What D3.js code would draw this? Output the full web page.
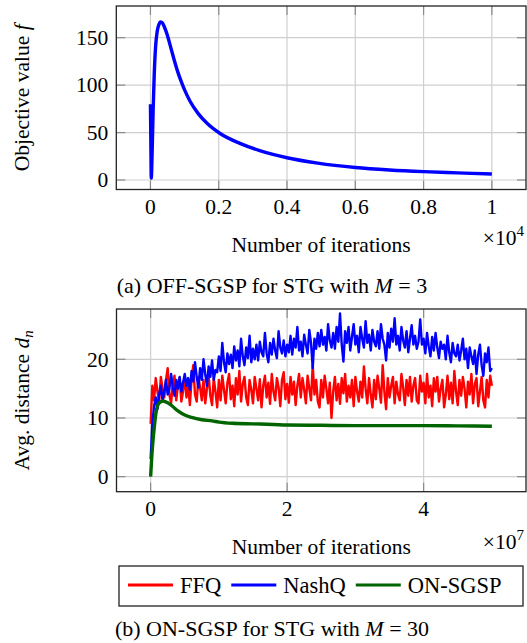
<!DOCTYPE html>
<html>
<head>
<meta charset="utf-8">
<script src="https://cdn.jsdelivr.net/npm/d3@7"></script>
<style>
  html, body { margin: 0; padding: 0; background: #fff; }
  svg text { font-family: "Liberation Serif", "Tinos", "Nimbus Roman", "DejaVu Serif", serif; fill: #000; }
</style>
</head>
<body>
<svg id="fig" width="527" height="643"></svg>
<script>
// ---- (a) OFF-SGSP, iterations in units of 1e4 ----
const offIter = [0, 0.0012, 0.0025, 0.005, 0.008, 0.011, 0.015, 0.02, 0.025, 0.03, 0.035, 0.04,
  0.05, 0.06, 0.07, 0.08, 0.09, 0.1, 0.116, 0.14, 0.165, 0.204, 0.262, 0.32, 0.4, 0.49, 0.6, 0.7, 0.8, 0.9, 1.0];
const offValue = [80, 40, 2, 30, 75, 110, 140, 157, 164, 166.5, 165.5, 162,
  152, 139, 126, 114, 104, 95, 83, 70, 60, 49, 38.6, 31, 23.5, 17.8, 13.2, 10.6, 8.8, 7.5, 6.3];
const offTicksX = [0, 0.2, 0.4, 0.6, 0.8, 1];
const offTicksY = [0, 50, 100, 150];

// ---- (b) ON-SGSP, iterations in units of 1e7 ----
const onStep = 0.025; // spacing of the FFQ / NashQ samples
const ffqValues = [
  9, 15.5, 13, 16.8, 14.5, 12.8, 17, 15, 13.5, 16.5, 18.5, 14, 12.5, 16, 17.2, 13, 15.5, 16.8, 12.8, 14.5,
  17, 13.5, 15.8, 12.2, 16.5, 19, 14, 12.8, 17, 15.2, 13, 16.5, 12.5, 15, 17.3, 13.8, 12.2, 16.8, 14.5, 11.8,
  16.5, 13, 17.2, 14.8, 12.5, 16, 17.5, 13.2, 15.5, 12, 16.8, 14, 18, 12.8, 15.8, 17, 13.5, 12.2, 16.5, 14.8,
  12.5, 17, 15, 13, 16.6, 11.8, 15.5, 17.2, 13.5, 16, 12.4, 17.5, 14.5, 13, 16.8, 15.2, 12, 16.5, 17.8, 13.2,
  15.8, 12.6, 17, 14, 16.2, 12.2, 15.5, 17.5, 13.5, 16.8, 14.8, 12.5, 17.2, 15, 13, 19, 14, 16.5, 12.8, 11.8,
  16.5, 13.5, 17.2, 15, 12.5, 16, 10, 14.5, 17, 13, 15.8, 12.4, 16.8, 14.2, 17.5, 12.8, 15.5, 13.5, 16.5, 12,
  17, 14.5, 12.8, 16.2, 13.5, 18.8, 15, 12.5, 16.8, 14, 11.8, 16.5, 13.2, 17.2, 15, 12.6, 19, 14.5, 11.5, 16.8,
  13.5, 15.5, 17, 12.5, 16.2, 14, 13, 17.5, 15.2, 12.2, 16.5, 13.8, 17, 12.8, 15.5, 16.8, 13, 12.5, 17.2, 14.5,
  16, 12.5, 17.5, 13.5, 15.5, 12, 16.8, 14.5, 17, 12.8, 15, 16.5, 11.8, 14, 17.2, 13.2, 16, 12.5, 18, 14.5,
  12.2, 16.5, 13.8, 17, 15, 11.8, 16.2, 14, 17.5, 12.5, 15.8, 16.8, 12, 14.5, 17, 13, 11.8, 16.5, 13.5, 17.2,
  15.5
];
const nashqValues = [
  3, 9, 12, 13.5, 11.5, 14, 15.5, 13, 14.5, 16.5, 14, 15, 17.5, 15.2, 13.8, 16.5, 15, 17, 14.5, 16,
  17.5, 15.5, 16.8, 14.8, 18, 16.2, 19.5, 17, 15.2, 18.5, 16.5, 20, 17.5, 15.5, 18.8, 17, 19.8, 16.5, 18.2, 17.8,
  20.5, 18, 22.8, 19.5, 17.8, 21, 19.2, 20.8, 18.5, 22.2, 19.8, 21.5, 18.8, 23.5, 20.5, 19, 22, 20.2, 24, 19.5,
  21.8, 20, 22.5, 19.8, 23, 21.2, 20.5, 24.5, 21, 19.5, 22.8, 20.8, 23.5, 21.5, 20.2, 24.8, 22, 21, 23.2, 20.5,
  22.5, 21.2, 24, 20.8, 23.5, 22, 25.5, 21.5, 23, 20.5, 24.2, 22.5, 21, 25, 22.8, 18.5, 23.5, 21.8, 24.5, 22.2,
  25, 22.5, 23.8, 21.5, 26, 23.2, 22, 24.5, 21.8, 25.5, 23, 27.8, 22.5, 19.6, 24.8, 22.8, 25.5, 21.5, 23.8, 26,
  22.5, 24, 21.2, 25.5, 23.5, 22, 26.5, 22.8, 24.2, 21.5, 25, 23, 22.2, 24.8, 21.8, 26, 23.5, 22.5, 19.8, 24.5,
  22, 25.2, 23, 27, 22.5, 24, 21.5, 25.5, 23.2, 22, 24.8, 21.2, 23.5, 25.8, 22.5, 24, 21.8, 23, 26.8, 22.5,
  23.5, 21, 24.5, 22.2, 20.5, 23.8, 21.5, 24.5, 22, 20.2, 23, 21.8, 22.5, 20, 24, 21.2, 19.5, 22.8, 21, 20.5,
  22.5, 19.8, 21.5, 23.5, 20, 21.8, 18.5, 22, 20.5, 19.2, 21.5, 17.5, 20.8, 22.5, 19, 17.2, 21, 19.5, 22, 18,
  18.5
];
const sgspIter = [0, 0.02, 0.05, 0.08, 0.12, 0.18, 0.25, 0.32, 0.4, 0.5, 0.6, 0.75, 0.9, 1.0, 1.2, 1.5,
  1.8, 2.0, 2.5, 3.0, 3.5, 4.0, 4.5, 5.0];
const sgspValues = [0, 4, 8, 11, 12.5, 12.9, 12.6, 12, 11.2, 10.5, 10.1, 9.7, 9.5, 9.3, 9.1, 9.0,
  8.9, 8.8, 8.75, 8.7, 8.7, 8.7, 8.65, 8.6];
const onTicksX = [0, 2, 4];
const onTicksY = [0, 10, 20];
const seriesNames = ["FFQ", "NashQ", "ON-SGSP"];
const seriesColors = ["#ff0000", "#0000ff", "#006400"];

const svg = d3.select("#fig");
const FONT = 21.5;

function drawPanel(p) {
  const x = d3.scaleLinear().domain(p.xDomain).range([p.left, p.right]);
  const y = d3.scaleLinear().domain(p.yDomain).range([p.bottom, p.top]);
  const g = svg.append("g");

  // grid
  g.selectAll(".gx").data(p.ticksX).enter().append("line")
    .attr("x1", d => x(d)).attr("x2", d => x(d))
    .attr("y1", p.top).attr("y2", p.bottom)
    .attr("stroke", "#cfcfcf").attr("stroke-width", 1.2);
  g.selectAll(".gy").data(p.ticksY).enter().append("line")
    .attr("y1", d => y(d)).attr("y2", d => y(d))
    .attr("x1", p.left).attr("x2", p.right)
    .attr("stroke", "#cfcfcf").attr("stroke-width", 1.2);

  // inner tick marks on all four sides
  const tl = 9;
  p.ticksX.forEach(d => {
    g.append("line").attr("x1", x(d)).attr("x2", x(d)).attr("y1", p.bottom).attr("y2", p.bottom - tl)
      .attr("stroke", "#8a8a8a").attr("stroke-width", 1.2);
    g.append("line").attr("x1", x(d)).attr("x2", x(d)).attr("y1", p.top).attr("y2", p.top + tl)
      .attr("stroke", "#8a8a8a").attr("stroke-width", 1.2);
  });
  p.ticksY.forEach(d => {
    g.append("line").attr("y1", y(d)).attr("y2", y(d)).attr("x1", p.left).attr("x2", p.left + tl)
      .attr("stroke", "#8a8a8a").attr("stroke-width", 1.2);
    g.append("line").attr("y1", y(d)).attr("y2", y(d)).attr("x1", p.right).attr("x2", p.right - tl)
      .attr("stroke", "#8a8a8a").attr("stroke-width", 1.2);
  });

  // series
  p.series.forEach(s => {
    const line = d3.line().x(d => x(d[0])).y(d => y(d[1])).curve(s.curve || d3.curveLinear);
    g.append("path").datum(s.data)
      .attr("fill", "none").attr("stroke", s.color).attr("stroke-width", s.width)
      .attr("stroke-linejoin", "round")
      .attr("d", line);
  });

  // frame
  g.append("rect").attr("x", p.left).attr("y", p.top)
    .attr("width", p.right - p.left).attr("height", p.bottom - p.top)
    .attr("fill", "none").attr("stroke", "#222").attr("stroke-width", 1.3);

  // tick labels
  g.selectAll(".lx").data(p.ticksX).enter().append("text")
    .attr("x", d => x(d)).attr("y", p.bottom + 24)
    .attr("text-anchor", "middle").attr("font-size", FONT)
    .text(d => String(d));
  g.selectAll(".ly").data(p.ticksY).enter().append("text")
    .attr("x", p.left - 8).attr("y", d => y(d)).attr("dy", "0.34em")
    .attr("text-anchor", "end").attr("font-size", FONT)
    .text(d => String(d));

  // x label and exponent
  g.append("text").attr("x", (p.left + p.right) / 2).attr("y", p.xLabelY)
    .attr("text-anchor", "middle").attr("font-size", FONT).text("Number of iterations");
  const ex = g.append("text").attr("x", p.right - 2).attr("y", p.expY)
    .attr("text-anchor", "end").attr("font-size", FONT);
  ex.append("tspan").text("×10");
  ex.append("tspan").attr("dy", -9).attr("font-size", 15).text(p.exp);

  // y label
  const yl = g.append("text")
    .attr("transform", `translate(29,${(p.top + p.bottom) / 2}) rotate(-90)`)
    .attr("text-anchor", "middle").attr("font-size", FONT);
  p.yLabel(yl);

  // caption
  const cap = g.append("text").attr("x", 272).attr("y", p.capY)
    .attr("text-anchor", "middle").attr("font-size", 22);
  cap.append("tspan").text(p.caption);
  cap.append("tspan").attr("font-style", "italic").text("M");
  cap.append("tspan").text(" = " + p.capM);
  return { x, y };
}

drawPanel({
  left: 116.3, right: 526, top: 6, bottom: 189.5,
  xDomain: [-0.1, 1.1], yDomain: [-10, 183.4],
  ticksX: offTicksX, ticksY: offTicksY,
  series: [{ data: offIter.map((t, i) => [t, offValue[i]]), color: "#0000ff", width: 3.4, curve: d3.curveMonotoneX }],
  xLabelY: 252, expY: 245, exp: "4",
  yLabel: t => { t.append("tspan").text("Objective value "); t.append("tspan").attr("font-style", "italic").text("f"); },
  capY: 293, caption: "(a) OFF-SGSP for STG with ", capM: "3"
});

drawPanel({
  left: 116.5, right: 526, top: 309, bottom: 491.7,
  xDomain: [-0.5, 5.5], yDomain: [-2.56, 28.57],
  ticksX: onTicksX, ticksY: onTicksY,
  series: [
    { data: ffqValues.map((v, i) => [i * onStep, v]), color: seriesColors[0], width: 2.4 },
    { data: nashqValues.map((v, i) => [i * onStep, v]), color: seriesColors[1], width: 2.4 },
    { data: sgspIter.map((t, i) => [t, sgspValues[i]]), color: seriesColors[2], width: 3.4, curve: d3.curveMonotoneX }
  ],
  xLabelY: 554, expY: 549, exp: "7",
  yLabel: t => {
    t.append("tspan").text("Avg. distance ");
    t.append("tspan").attr("font-style", "italic").text("d");
    t.append("tspan").attr("font-style", "italic").attr("font-size", 15).attr("dy", 4).text("n");
  },
  capY: 636, caption: "(b) ON-SGSP for STG with ", capM: "30"
});

// legend
const lg = svg.append("g");
lg.append("rect").attr("x", 119).attr("y", 566).attr("width", 404).attr("height", 40)
  .attr("fill", "#fff").attr("stroke", "#222").attr("stroke-width", 1.3);
let lx = 128;
seriesNames.forEach((name, i) => {
  lg.append("line").attr("x1", lx).attr("x2", lx + 45).attr("y1", 585).attr("y2", 585)
    .attr("stroke", seriesColors[i]).attr("stroke-width", 3);
  const t = lg.append("text").attr("x", lx + 52).attr("y", 593).attr("font-size", 22.5).text(name);
  lx += 52 + t.node().getComputedTextLength() + 10;
});
</script>
</body>
</html>
